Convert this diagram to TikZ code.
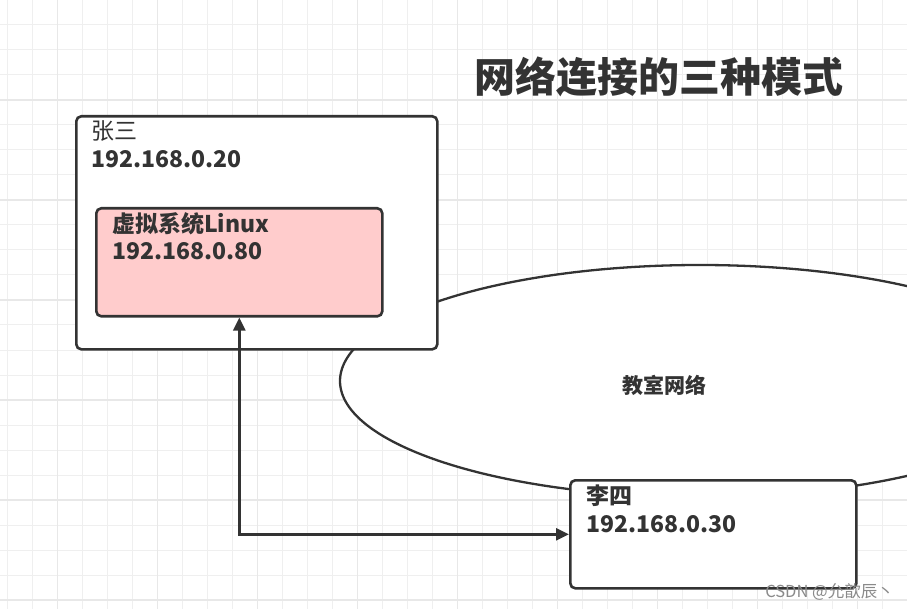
\documentclass[tikz,border=0pt]{standalone}
\usepackage{fontspec}
\setmainfont{Noto Sans CJK SC}
\usetikzlibrary{arrows.meta,shapes.geometric}
\definecolor{ink}{HTML}{333333}
\definecolor{pinkfill}{HTML}{FFCCCC}
\definecolor{gridminor}{HTML}{EFEFEF}
\definecolor{gridmajor}{HTML}{E8E8E8}
\definecolor{wm}{HTML}{8A8A8A}
\begin{document}
\begin{tikzpicture}[x=1pt,y=-1pt,
  box/.style={draw=ink, line width=2.6pt, rounded corners=5pt, fill=white, anchor=north west, inner sep=0pt},
  lbl/.style={anchor=base west, inner sep=0pt, text=ink, font=\fontsize{23}{26}\selectfont},
  lblb/.style={lbl, font=\fontsize{23}{26}\selectfont\bfseries},
  conn/.style={draw=ink, line width=2.6pt, {Triangle[length=13pt,width=12pt]}-{Triangle[length=13pt,width=12pt]}},
]
\useasboundingbox (0,0) rectangle (907,609);
\fill[white] (0,0) rectangle (907,609);
% grid
\foreach \i in {0,...,36} \draw[gridminor, line width=1pt] (7.5+25*\i,0) -- (7.5+25*\i,609);
\foreach \j in {1,...,24} \draw[gridminor, line width=1pt] (0,25*\j) -- (907,25*\j);
\foreach \i in {0,...,8} \draw[gridmajor, line width=1.2pt] (57.5+100*\i,0) -- (57.5+100*\i,609);
\foreach \j in {1,...,6} \draw[gridmajor, line width=1.2pt] (0,100*\j) -- (907,100*\j);

% title
\node[text=ink, inner sep=0pt, font=\fontsize{41}{46}\selectfont\bfseries] (title) at (659,77) {网络连接的三种模式};

% network ellipse
\node[ellipse, draw=ink, line width=2.3pt, fill=white, minimum width=720pt, minimum height=232pt, inner sep=0pt] (net) at (700,381) {};
\node[text=ink, inner sep=0pt, font=\fontsize{21}{24}\selectfont\bfseries] (nettext) at (664,385) {教室网络};

% Zhang San host
\node[box, minimum width=361pt, minimum height=233pt] (zs) at (75,115) {};
\node[lbl] (zsname) at (91,140) {张三};
\node[lblb] (zsip) at (91,168) {192.168.0.20};

% virtual Linux
\node[box, fill=pinkfill, minimum width=286pt, minimum height=108pt] (vm) at (95,207) {};
\node[lblb] (vmname) at (112,233) {虚拟系统Linux};
\node[lblb] (vmip) at (112,260) {192.168.0.80};

% Li Si host
\node[box, minimum width=286pt, minimum height=108pt] (ls) at (569,479) {};
\node[lblb] (lsname) at (586,504) {李四};
\node[lblb] (lsip) at (586,532) {192.168.0.30};

% connector
\draw[conn] (vm.south) |- (ls.west);

% watermark
\node[text=wm, inner sep=0pt, anchor=east, font=\fontsize{16.5}{18}\selectfont] (wmark) at (894,592) {CSDN @允歆辰丶};
\end{tikzpicture}
\end{document}
